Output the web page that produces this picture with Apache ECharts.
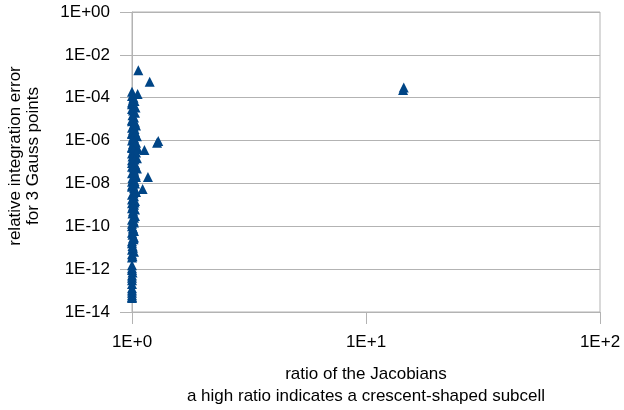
<!DOCTYPE html>
<html>
<head>
<meta charset="utf-8">
<script src="https://cdn.jsdelivr.net/npm/echarts@6/dist/echarts.min.js"></script>
<style>
  html, body { margin: 0; padding: 0; background: #fff; }
  #chart { width: 624px; height: 410px; }
</style>
</head>
<body>
<div id="chart"></div>
<script>
// ratio of the Jacobians (x) and relative integration error (y)
var ratioValues = [
    1.0, 1.057, 1.0, 1.01, 1.0, 1.02, 1.0, 1.03, 1.005, 1.01,
    1.0, 1.02, 1.04, 1.0, 1.01, 1.03, 1.0, 1.05, 1.02, 1.0,
    1.04, 1.01, 1.0, 1.06, 1.03, 1.0, 1.02, 1.05, 1.0, 1.01,
    1.03, 1.0, 1.05, 1.02, 1.0, 1.04, 1.01, 1.0, 1.03,
    1.0, 1.02, 1.04, 1.0, 1.01, 1.03, 1.0, 1.02,
    1.0, 1.01, 1.03, 1.0, 1.02, 1.0,
    1.01, 1.0, 1.02, 1.0, 1.005, 1.0, 1.0,
    1.0, 1.0, 1.0, 1.0, 1.0, 1.0, 1.0, 1.0, 1.0,
    1.064, 1.19, 1.295, 1.28, 1.13, 1.17, 1.11,
    14.5, 14.4,
    1.015, 1.025, 1.0, 1.035, 1.01, 1.02, 1.0, 1.03, 1.015, 1.025,
    1.0, 1.035, 1.01, 1.02, 1.03, 1.0, 1.015, 1.04, 1.005, 1.025,
    1.0, 1.03, 1.015, 1.02, 1.035, 1.005, 1.025, 1.01, 1.0, 1.03,
    1.015, 1.02, 1.0, 1.025, 1.01, 1.03, 1.005, 1.02, 1.015, 1.0,
    1.01, 1.02, 1.005, 1.015, 1.0, 1.01, 1.02, 1.005, 1.0, 1.01,
    1.0, 1.005, 1.0, 1.0, 1.0
];
var errorValues = [
    1.9e-4, 1.5e-4, 1.2e-4, 8e-5, 6e-5, 4e-5, 3e-5, 2e-5, 1.5e-5, 1e-5,
    8e-6, 6e-6, 5e-6, 4e-6, 3e-6, 2.5e-6, 2e-6, 1.6e-6, 1.3e-6, 1e-6,
    8e-7, 7e-7, 5e-7, 4e-7, 3e-7, 2.5e-7, 2e-7, 1.5e-7, 1.2e-7, 1e-7,
    8e-8, 6e-8, 5e-8, 4e-8, 3e-8, 2e-8, 1.5e-8, 1.2e-8, 1e-8,
    8e-9, 6e-9, 4e-9, 3e-9, 2e-9, 1.5e-9, 1.2e-9, 1e-9,
    7e-10, 5e-10, 3e-10, 2e-10, 1.5e-10, 1e-10,
    7e-11, 5e-11, 3e-11, 2e-11, 1.2e-11, 8e-12, 5e-12,
    1.5e-12, 9e-13, 5e-13, 3e-13, 2e-13, 1.3e-13, 8e-14, 6e-14, 4.5e-14,
    1.9e-3, 5.6e-4, 9.5e-7, 8e-7, 3.6e-7, 2e-8, 5.5e-9,
    3e-4, 2.3e-4,
    1e-4, 7e-5, 5e-5, 3.5e-5, 2.5e-5, 1.2e-5, 9e-6, 7e-6, 4.5e-6, 3.5e-6,
    2.2e-6, 1.8e-6, 1.4e-6, 9e-7, 6e-7, 4.5e-7, 3.5e-7, 2.8e-7, 1.8e-7, 1.3e-7,
    9e-8, 7e-8, 5.5e-8, 3.5e-8, 2.5e-8, 1.8e-8, 1.3e-8, 9e-9, 7e-9, 5e-9,
    3.5e-9, 2.5e-9, 1.8e-9, 1.3e-9, 9e-10, 6e-10, 4e-10, 2.5e-10, 1.8e-10, 1.3e-10,
    8e-11, 6e-11, 4e-11, 2.5e-11, 1.6e-11, 1e-11, 6.5e-12, 4e-12, 3.5e-12, 2.8e-11,
    1.1e-12, 7e-13, 4e-13, 1e-13, 5e-14
];
var xTickLabels = ['1E+0', '1E+1', '1E+2'];
var yTickLabels = ['1E-14', '1E-12', '1E-10', '1E-08', '1E-06', '1E-04', '1E-02', '1E+00'];

var fontFamily = '"Liberation Sans", Arial, sans-serif';
var gridColor = '#b3b3b3';

function expOf(v) {
    return Math.round(Math.log(v) / Math.LN10);
}

var myChart = echarts.init(document.getElementById('chart'));

var points = []
ratioValues.forEach((r, i) => {
    points.push([r, errorValues[i]])
})

let option = {
    animation: false,
    grid: {
        left: 132,
        right: 24,
        top: 12,
        bottom: 98,
        outerBoundsMode: 'none',
        show: true,
        borderColor: gridColor,
        borderWidth: 1
    },
    xAxis: {
        type: 'log',
        logBase: 10,
        min: 1,
        max: 100,
        interval: 1,
        name: 'ratio of the Jacobians\na high ratio indicates a crescent-shaped subcell',
        nameLocation: 'middle',
        nameGap: 51,
        nameTextStyle: { color: '#000', fontSize: 17, fontFamily: fontFamily, lineHeight: 22 },
        axisLine: { lineStyle: { color: gridColor } },
        axisTick: { show: true, length: 12, lineStyle: { color: gridColor } },
        axisLabel: {
            color: '#000', fontSize: 17, fontFamily: fontFamily, margin: 22,
            formatter: v => xTickLabels[expOf(v)]
        },
        splitLine: { show: false }
    },
    yAxis: {
        type: 'log',
        logBase: 10,
        min: 1e-14,
        max: 1,
        interval: 2,
        name: 'relative integration error\nfor 3 Gauss points',
        nameLocation: 'middle',
        nameGap: 90,
        nameTextStyle: { color: '#000', fontSize: 17, fontFamily: fontFamily, lineHeight: 18, padding: [0, 0, 0, 12] },
        axisLine: { show: true, lineStyle: { color: gridColor } },
        axisTick: { show: true, length: 12, lineStyle: { color: gridColor } },
        axisLabel: {
            color: '#000', fontSize: 17, fontFamily: fontFamily, margin: 22,
            formatter: v => yTickLabels[(expOf(v) + 14) / 2]
        },
        splitLine: { show: true, lineStyle: { color: gridColor } }
    },
    series: [
        {
            type: 'scatter',
            symbol: 'triangle',
            symbolSize: 10,
            itemStyle: { color: '#004586', opacity: 1 },
            data: points
        }
    ]
};

myChart.setOption(option);
</script>
</body>
</html>
